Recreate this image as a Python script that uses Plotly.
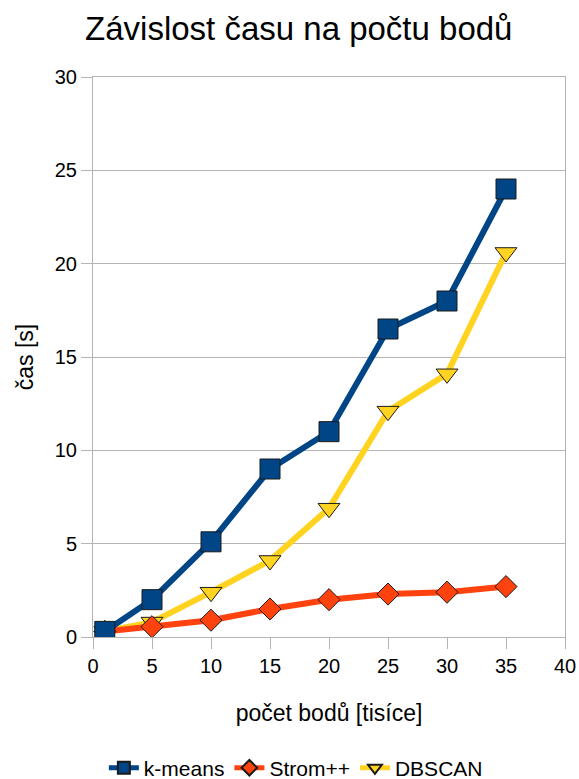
import plotly.graph_objects as go

x_vals = [1, 5, 10, 15, 20, 25, 30, 35]
kmeans = [0.3, 2.0, 5.1, 9.0, 11.0, 16.5, 18.0, 24.0]
strom = [0.3, 0.55, 0.9, 1.5, 2.0, 2.3, 2.4, 2.7]
dbscan = [0.3, 0.8, 2.4, 4.1, 6.9, 12.1, 14.1, 20.6]

series = [
    ("DBSCAN", dbscan, "#ffd320", "triangle-down", 19),
    ("Strom++", strom, "#ff420e", "diamond", 17),
    ("k-means", kmeans, "#004586", "square", 20),
]

fig = go.Figure()
for name, ys, color, sym, size in series:
    fig.add_trace(go.Scatter(
        x=x_vals, y=ys, name=name, mode="lines+markers",
        line=dict(color=color, width=6),
        marker=dict(symbol=sym, size=size, color=color,
                    line=dict(color="#1a1a1a", width=1)),
    ))

font = "Liberation Sans, Arial, sans-serif"
fig.update_layout(
    width=579, height=779,
    margin=dict(l=93, r=14, t=77, b=142, autoexpand=False),
    plot_bgcolor="white", paper_bgcolor="white",
    font=dict(family=font, color="black", size=20),
    title=dict(text="Závislost času na počtu bodů", x=0.516, xanchor="center",
               xref="container", yref="container",
               y=0.964, yanchor="middle", font=dict(size=33, family=font)),
    showlegend=True,
    legend=dict(orientation="h", x=0.511, xanchor="center", xref="container",
                yref="container", y=0.014, yanchor="middle", itemsizing="constant",
                traceorder="reversed", font=dict(size=21), itemwidth=30),
    xaxis=dict(range=[0, 40], tickvals=[0, 5, 10, 15, 20, 25, 30, 35, 40],
               showgrid=False, zeroline=False, showline=True, linecolor="#b3b3b3",
               mirror=True, ticks="outside", ticklen=11, tickcolor="#b3b3b3",
               tickfont=dict(size=20), automargin=False,
               title=dict(text="počet bodů [tisíce]", font=dict(size=23), standoff=28)),
    yaxis=dict(range=[0, 30], tickvals=[0, 5, 10, 15, 20, 25, 30],
               showgrid=True, gridcolor="#b3b3b3", gridwidth=1,
               zeroline=False, showline=True, linecolor="#b3b3b3",
               mirror=True, ticks="outside", ticklen=11, tickcolor="#b3b3b3",
               tickfont=dict(size=20), automargin=False,
               title=dict(text="čas [s]", font=dict(size=23), standoff=14)),
)

fig.write_html("out.html")
